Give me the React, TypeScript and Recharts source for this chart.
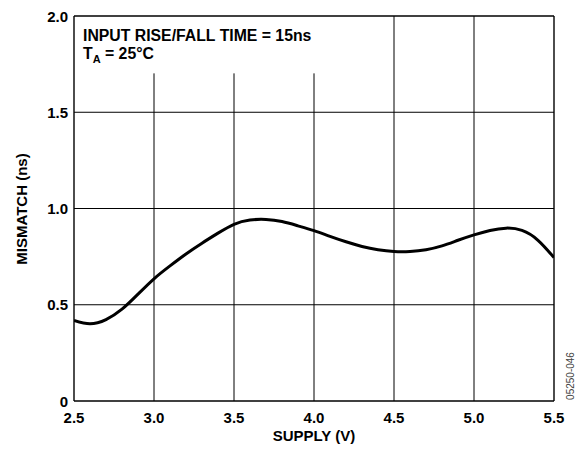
import { LineChart, Line, XAxis, YAxis, CartesianGrid, ReferenceLine } from 'recharts';

const SUPPLY_V = [
  2.5, 2.6, 2.7, 2.8, 2.9, 3.0, 3.1, 3.2, 3.3, 3.4, 3.5, 3.6, 3.7, 3.8, 3.9, 4.0,
  4.1, 4.2, 4.3, 4.4, 4.5, 4.6, 4.7, 4.8, 4.9, 5.0, 5.1, 5.2, 5.3, 5.4, 5.5,
];
const MISMATCH_NS = [
  0.418, 0.401, 0.423, 0.477, 0.555, 0.635, 0.702, 0.764, 0.82, 0.872, 0.918, 0.94,
  0.943, 0.932, 0.91, 0.885, 0.855, 0.827, 0.803, 0.786, 0.777, 0.777, 0.786, 0.806, 0.835,
  0.863, 0.886, 0.898, 0.886, 0.835, 0.745,
];
const X_TICKS = [2.5, 3.0, 3.5, 4.0, 4.5, 5.0, 5.5];
const Y_TICKS = [0, 0.5, 1.0, 1.5, 2.0];
const Y_TICK_LABELS = ['0', '0.5', '1.0', '1.5', '2.0'];
// verticals under the note box stop short of the top
const SHORT_GRID_X = [3.0, 3.5, 4.0];
const FULL_GRID_X = [4.5, 5.0];

const data = SUPPLY_V.map((v, i) => ({ v, m: MISMATCH_NS[i] }));

const FONT = '"Liberation Sans", Arial, Helvetica, sans-serif';

const XTick = (props: any) => (
  <text
    x={props.x}
    y={props.y + 21.5}
    textAnchor="middle"
    fontFamily={FONT}
    fontWeight="bold"
    fontSize={15}
    fill="#000"
  >
    {props.payload.value.toFixed(1)}
  </text>
);

const YTick = (props: any) => {
  const idx = Y_TICKS.indexOf(props.payload.value);
  return (
    <text
      x={props.x - 6}
      y={props.y + 5.5}
      textAnchor="end"
      fontFamily={FONT}
      fontWeight="bold"
      fontSize={15}
      fill="#000"
    >
      {Y_TICK_LABELS[idx]}
    </text>
  );
};

export default function App() {
  return (
    <div style={{ position: 'absolute', left: 0, top: 0, width: 587, height: 450, background: '#fff' }}>
      <LineChart
        width={587}
        height={450}
        data={data}
        margin={{ top: 16, right: 33, left: 30, bottom: 19 }}
      >
        <CartesianGrid vertical={false} stroke="#000" strokeWidth={1} horizontalValues={[0.5, 1.0, 1.5]} />
        <XAxis
          dataKey="v"
          type="number"
          domain={[2.5, 5.5]}
          ticks={X_TICKS}
          height={30}
          tickLine={false}
          tickSize={0}
          tickMargin={0}
          tick={XTick}
          axisLine={{ stroke: '#000', strokeWidth: 1.4 }}
          allowDataOverflow
        />
        <YAxis
          type="number"
          domain={[0, 2]}
          ticks={Y_TICKS}
          width={44}
          tickLine={false}
          tickSize={0}
          tickMargin={0}
          tick={YTick}
          axisLine={{ stroke: '#000', strokeWidth: 1.4 }}
          allowDataOverflow
        />
        {SHORT_GRID_X.map((x) => (
          <ReferenceLine
            key={`s${x}`}
            segment={[{ x, y: 0 }, { x, y: 1.702 }]}
            stroke="#000"
            strokeWidth={1}
          />
        ))}
        {FULL_GRID_X.map((x) => (
          <ReferenceLine key={`f${x}`} x={x} stroke="#000" strokeWidth={1} />
        ))}
        <ReferenceLine y={2} stroke="#000" strokeWidth={1.4} />
        <ReferenceLine x={5.5} stroke="#000" strokeWidth={1.4} />
        <Line
          type="natural"
          dataKey="m"
          stroke="#000"
          strokeWidth={3}
          dot={false}
          activeDot={false}
          isAnimationActive={false}
        />
      </LineChart>
      <svg
        width={587}
        height={450}
        style={{ position: 'absolute', left: 0, top: 0, pointerEvents: 'none' }}
        fontFamily={FONT}
      >
        <text x={83} y={41} fontSize={15.8} fontWeight="bold" fill="#000">
          INPUT RISE/FALL TIME = 15ns
        </text>
        <text x={83} y={58.5} fontSize={15.8} fontWeight="bold" fill="#000">
          T
          <tspan fontSize={11} dy={4}>A</tspan>
          <tspan dy={-4}> = 25°C</tspan>
        </text>
        <text x={314} y={441} textAnchor="middle" fontSize={15} fontWeight="bold" fill="#000">
          SUPPLY (V)
        </text>
        <text
          x={27}
          y={209}
          textAnchor="middle"
          fontSize={15}
          fontWeight="bold"
          fill="#000"
          transform="rotate(-90, 27, 209)"
        >
          MISMATCH (ns)
        </text>
        <text
          x={574}
          y={376}
          textAnchor="middle"
          fontSize={10}
          fill="#444"
          transform="rotate(-90, 574, 376)"
        >
          05250-046
        </text>
      </svg>
    </div>
  );
}
